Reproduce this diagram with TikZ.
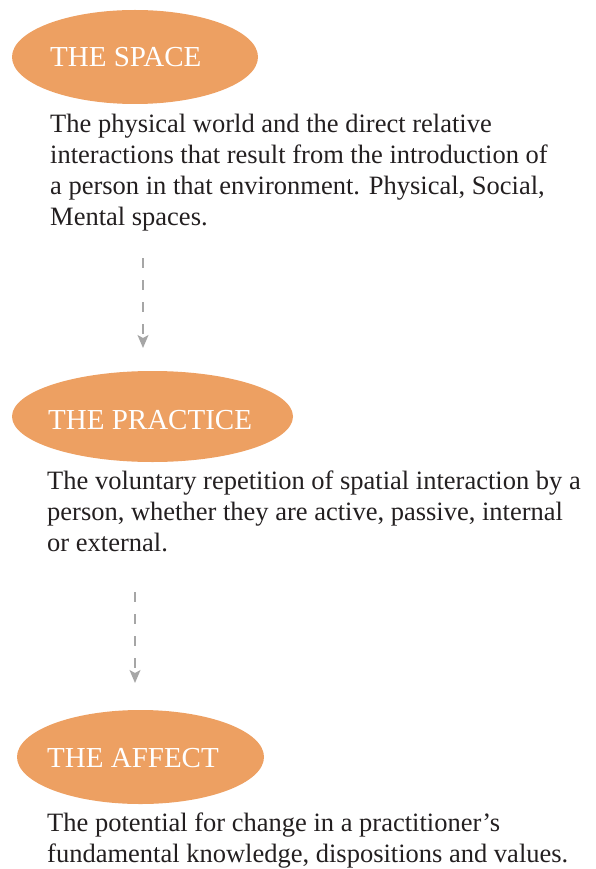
\documentclass[tikz,border=0pt]{standalone}
\usepackage{fontspec}
\setmainfont{Liberation Serif}
\usetikzlibrary{shapes.geometric,arrows.meta}
\definecolor{blob}{RGB}{237,160,98}
\definecolor{ink}{RGB}{35,31,32}
\definecolor{arrowgray}{RGB}{166,166,166}
\tikzset{
  blobnode/.style={ellipse, fill=blob, draw=none, inner sep=0pt},
  headtext/.style={anchor=base west, inner sep=0pt, text=white, font=\fontsize{29}{33}\selectfont},
  bodytext/.style={anchor=base west, inner sep=0pt, text=ink, align=left, font=\fontsize{26.5}{31.3}\selectfont},
  flowarrow/.style={draw=arrowgray, line width=1.3pt, dash pattern=on 10pt off 12pt, -{Stealth[length=13pt,width=11pt,inset=3pt]}}
}
\begin{document}
\begin{tikzpicture}[x=1pt,y=-1pt]
\useasboundingbox (0,0) rectangle (595,869);
% ellipses
\node[blobnode, minimum width=246pt, minimum height=94pt] (e1) at (135,57) {};
\node[blobnode, minimum width=281pt, minimum height=91pt] (e2) at (152.5,416.5) {};
\node[blobnode, minimum width=247pt, minimum height=94pt] (e3) at (140.5,757) {};
% headings
\node[headtext] (h1) at (50,67) {THE SPACE};
\node[headtext] (h2) at (48,429) {THE PRACTICE};
\node[headtext] (h3) at (47,767) {THE AFFECT};
% bodies (base anchor = baseline of last line)
\node[bodytext] (t1) at (50,225.9) {The physical world and the direct relative\\interactions that result from the introduction of\\a person in that environment. Physical, Social,\\Mental spaces.};
\node[bodytext] (t2) at (47,551.6) {The voluntary repetition of spatial interaction by a\\person, whether they are active, passive, internal\\or external.};
\node[bodytext] (t3) at (47,862.3) {The potential for change in a practitioner’s\\fundamental knowledge, dispositions and values.};
% arrows
\coordinate (a1s) at (143,258);
\coordinate (a1e) at (143,348);
\coordinate (a2s) at (135,592);
\coordinate (a2e) at (135,683);
\draw[flowarrow] (a1s) -- (a1e);
\draw[flowarrow] (a2s) -- (a2e);
\end{tikzpicture}
\end{document}
